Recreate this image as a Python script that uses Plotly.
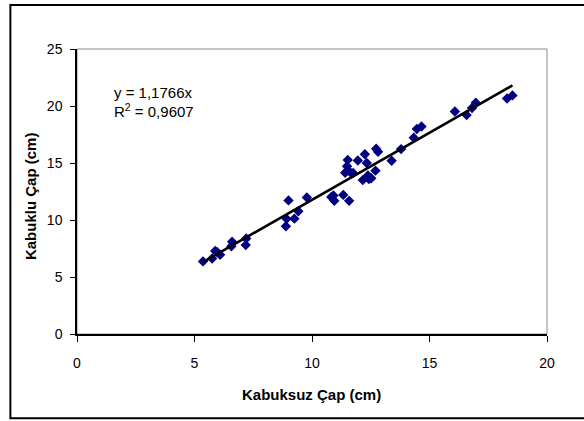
import plotly.graph_objects as go

# Data
kabuksuz = [5.36, 5.75, 5.88, 5.97, 6.09, 6.57, 6.60, 7.18, 7.20, 8.89, 8.92, 9.00, 9.25,
            9.42, 9.78, 10.82, 10.91, 10.95, 11.33, 11.58, 11.41, 11.49, 11.52, 11.62,
            11.75, 11.95, 12.16, 12.25, 12.33, 12.38, 12.42, 12.52, 12.70, 12.73, 12.81,
            13.39, 13.79, 14.33, 14.46, 14.66, 16.08, 16.58, 16.81, 16.97, 18.30, 18.53]
kabuklu = [6.37, 6.62, 7.28, 7.17, 6.95, 7.70, 8.10, 7.80, 8.38, 9.45, 10.10, 11.72, 10.12,
           10.77, 11.97, 12.02, 12.15, 11.68, 12.20, 11.68, 14.15, 14.72, 15.26, 14.20,
           14.13, 15.22, 13.50, 15.77, 15.00, 13.90, 13.60, 13.66, 14.33, 16.25, 15.98,
           15.20, 16.22, 17.22, 17.98, 18.20, 19.52, 19.20, 19.82, 20.29, 20.66, 20.93]
slope = 1.1766
eq_text = "y = 1,1766x"
r2_text = "R<sup>2</sup> = 0,9607"
x_ticks = [0, 5, 10, 15, 20]
y_ticks = [0, 5, 10, 15, 20, 25]
x_title = "Kabuksuz Çap (cm)"
y_title = "Kabuklu Çap (cm)"

fit_x = [min(kabuksuz), max(kabuksuz)]
fit_y = [slope * v for v in fit_x]

W, H = 584, 421
L, R, T, B = 76.7, 547.3, 49.0, 334.5

def px(xp):
    return (xp - L) / (R - L)

def py(yp):
    return (B - yp) / (B - T)

FONT = "Liberation Sans, Arial, sans-serif"

fig = go.Figure()
fig.add_trace(go.Scatter(
    x=kabuksuz, y=kabuklu, mode="markers",
    marker=dict(symbol="diamond", size=8, color="#000080", line=dict(width=0)),
    showlegend=False, hoverinfo="x+y"))
fig.add_trace(go.Scatter(
    x=fit_x, y=fit_y, mode="lines",
    line=dict(color="black", width=2.6),
    showlegend=False, hoverinfo="skip"))

fig.update_layout(
    width=W, height=H,
    margin=dict(l=L, r=W - R, t=T, b=H - B, pad=0),
    paper_bgcolor="white", plot_bgcolor="white",
    font=dict(family=FONT, size=14, color="black"),
    xaxis=dict(range=[0, 20], tickvals=x_ticks, showgrid=False, zeroline=False,
               showline=True, linecolor="black", linewidth=2,
               ticks="outside", ticklen=6, tickcolor="black", tickwidth=1,
               ticklabelstandoff=9, tickfont=dict(family=FONT, size=14)),
    yaxis=dict(range=[0, 25], tickvals=y_ticks, showgrid=False, zeroline=False,
               showline=True, linecolor="black", linewidth=1.5,
               ticks="outside", ticklen=5, tickcolor="black", tickwidth=1,
               ticklabelstandoff=5, tickfont=dict(family=FONT, size=14)),
    shapes=[
        dict(type="rect", xref="paper", yref="paper", x0=0, x1=1, y0=0, y1=1,
             line=dict(color="#8c8c8c", width=1), layer="below"),
        dict(type="rect", xref="paper", yref="paper",
             x0=px(10), x1=px(640), y0=py(419), y1=py(5),
             line=dict(color="black", width=2), layer="below"),
    ],
    annotations=[
        dict(text=eq_text, xref="paper", yref="paper", x=px(112), y=py(92.5),
             xanchor="left", yanchor="middle", showarrow=False,
             font=dict(family=FONT, size=15)),
        dict(text=r2_text, xref="paper", yref="paper", x=px(112), y=py(111),
             xanchor="left", yanchor="middle", showarrow=False,
             font=dict(family=FONT, size=15)),
        dict(text="<b>" + x_title + "</b>", xref="paper", yref="paper",
             x=px(311), y=py(395), xanchor="center", yanchor="middle",
             showarrow=False, font=dict(family=FONT, size=15)),
        dict(text="<b>" + y_title + "</b>", xref="paper", yref="paper",
             x=px(30), y=py(196), xanchor="center", yanchor="middle",
             textangle=-90, showarrow=False, font=dict(family=FONT, size=15)),
    ],
)

fig.write_html("out.html")
